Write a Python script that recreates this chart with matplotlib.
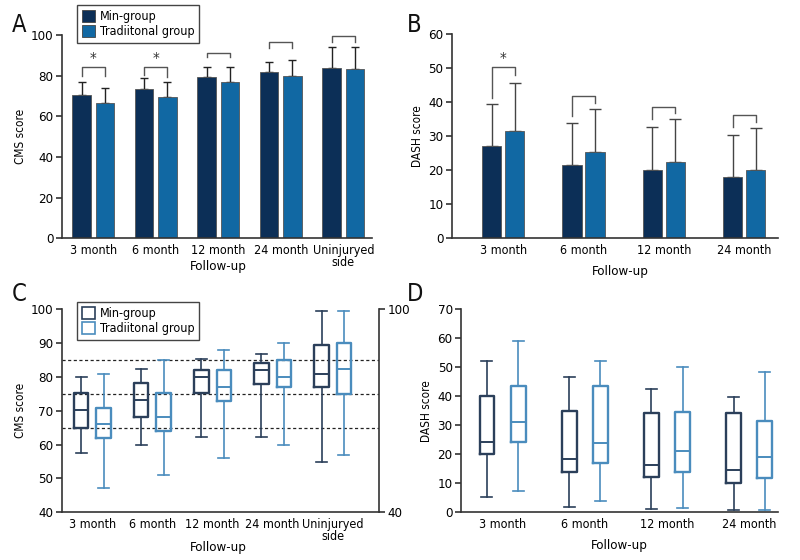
import numpy as np
import matplotlib
matplotlib.use("Agg")
import matplotlib.pyplot as plt
from matplotlib.patches import Patch

plt.rcParams["font.family"] = ["DejaVu Sans"]
plt.rcParams["font.stretch"] = "condensed"

DARK = "#0c2f57"
BLUE = "#1168a3"
BOX_DARK = "#2b3f5a"
BOX_BLUE = "#4a8cbd"
AXC = "#333333"

# ---- data ----
groups_cms = ["3 month", "6 month", "12 month", "24 month", "Uninjuryed\nside"]
groups_dash = ["3 month", "6 month", "12 month", "24 month"]

cms_min_mean = [70.5, 73.5, 79.5, 82.0, 84.0]
cms_min_sd = [6.5, 5.5, 5.0, 4.5, 10.0]
cms_trad_mean = [66.5, 69.5, 77.0, 80.0, 83.5]
cms_trad_sd = [7.5, 7.5, 7.5, 7.5, 10.5]

dash_min_mean = [27.2, 21.6, 20.1, 18.1]
dash_min_sd = [12.3, 12.4, 12.5, 12.2]
dash_trad_mean = [31.7, 25.5, 22.4, 20.1]
dash_trad_sd = [13.9, 12.4, 12.8, 12.3]

# bracket annotations: top, left leg end, right leg end, significance
cms_br_top = [84.4, 84.4, 91.3, 96.4, 99.7]
cms_br_left = [80.0, 80.3, 89.0, 93.8, 96.7]
cms_br_right = [80.0, 79.5, 89.0, 93.8, 96.7]
cms_sig = [True, True, False, False, False]

dash_br_top = [50.5, 42.0, 38.5, 36.4]
dash_br_left = [41.2, 36.0, 35.0, 32.8]
dash_br_right = [48.0, 39.7, 37.0, 34.3]
dash_sig = [True, False, False, False]

# box plot summaries (whisker low, Q1, median, Q3, whisker high)
cms_box_min_lo = [57.6, 59.8, 62.2, 62.4, 55.0]
cms_box_min_q1 = [65.0, 68.2, 75.4, 78.0, 77.0]
cms_box_min_med = [70.1, 73.1, 80.0, 82.1, 81.0]
cms_box_min_q3 = [75.4, 78.3, 82.1, 84.2, 89.5]
cms_box_min_hi = [80.1, 82.3, 85.2, 86.9, 99.6]

cms_box_trad_lo = [47.1, 51.0, 56.0, 59.8, 56.9]
cms_box_trad_q1 = [62.0, 64.1, 73.0, 77.0, 74.9]
cms_box_trad_med = [66.0, 68.1, 76.9, 80.0, 82.3]
cms_box_trad_q3 = [70.9, 75.4, 82.1, 85.0, 90.0]
cms_box_trad_hi = [80.8, 85.0, 88.0, 90.0, 99.6]

cms_ref_lines = [65, 75, 85]

dash_box_min_lo = [5.3, 1.7, 1.0, 0.7]
dash_box_min_q1 = [20.0, 13.8, 12.3, 10.1]
dash_box_min_med = [24.2, 18.3, 16.2, 14.4]
dash_box_min_q3 = [40.2, 35.0, 34.1, 34.1]
dash_box_min_hi = [52.0, 46.7, 42.4, 39.8]

dash_box_trad_lo = [7.2, 4.0, 1.6, 0.9]
dash_box_trad_q1 = [24.3, 17.0, 13.9, 11.7]
dash_box_trad_med = [31.1, 23.8, 21.2, 19.2]
dash_box_trad_q3 = [43.5, 43.5, 34.4, 31.3]
dash_box_trad_hi = [59.1, 52.0, 49.9, 48.2]

LEG_LABELS = ["Min-group", "Tradiitonal group"]


def style_axes(ax):
    for s in ["top", "right"]:
        ax.spines[s].set_visible(False)
    for s in ["left", "bottom"]:
        ax.spines[s].set_color(AXC)
        ax.spines[s].set_linewidth(1.2)
    ax.tick_params(axis="y", direction="out", length=4, width=1.2, color=AXC, labelsize=9.5, pad=2)
    ax.tick_params(axis="x", length=0, labelsize=9, pad=4)
    for t in ax.get_xticklabels():
        t.set_linespacing(0.95)


def follow_up(ax, xf, yf):
    ax.set_xlabel("Follow-up", fontsize=9.5)
    ax.xaxis.label.set_verticalalignment("center")
    ax.xaxis.set_label_coords(xf, yf)


def bar_panel(ax, labels, m1, s1, m2, s2, off, width, capsize, ecolor):
    x = np.arange(len(labels))
    ax.bar(x - off, m1, width, color=DARK, edgecolor="#555555", linewidth=0.6, zorder=2)
    ax.bar(x + off, m2, width, color=BLUE, edgecolor="#555555", linewidth=0.6, zorder=2)
    for xs, m, s in [(x - off, m1, s1), (x + off, m2, s2)]:
        ax.errorbar(xs, m, yerr=[np.zeros(len(m)), s], fmt="none", ecolor=ecolor,
                    elinewidth=1.0, capsize=capsize, capthick=1.0, zorder=1)
    ax.set_xticks(x)
    ax.set_xticklabels(labels)
    return x


def brackets(ax, x, off, top, lft, rgt, sig):
    for i in range(len(x)):
        xl, xr = x[i] - off, x[i] + off
        ax.plot([xl, xl, xr, xr], [lft[i], top[i], top[i], rgt[i]], color="#555555", lw=1.0)
        if sig[i]:
            ax.text(x[i], top[i], "*", ha="center", va="bottom", fontsize=11, color="#333333")


def box_panel(ax, n, off, width, series):
    x = np.arange(n)
    for sign, (lo, q1, med, q3, hi), col in series:
        stats = [dict(whislo=lo[i], q1=q1[i], med=med[i], q3=q3[i], whishi=hi[i], fliers=[])
                 for i in range(n)]
        ax.bxp(stats, positions=x + sign * off, widths=width, showfliers=False,
               boxprops=dict(color=col, linewidth=1.7),
               medianprops=dict(color=col, linewidth=1.4),
               whiskerprops=dict(color=col, linewidth=1.2),
               capprops=dict(color=col, linewidth=1.2),
               capwidths=width * 0.75, manage_ticks=False)
    return x


def add_legend(ax, handles, y_px):
    ax.legend(handles=handles, labels=LEG_LABELS, loc="upper left",
              bbox_to_anchor=(76.7 / 800, 1 - y_px / 560), bbox_transform=fig.transFigure,
              borderaxespad=0, fancybox=False, edgecolor="#444444", fontsize=9,
              handlelength=1.1, handleheight=1.1, handletextpad=0.35, labelspacing=0.15,
              borderpad=0.4, framealpha=1)


fig = plt.figure(figsize=(8, 5.6), dpi=100)

# ---- A ----
axA = fig.add_axes([62 / 800, 1 - 238.3 / 560, 310 / 800, 203.3 / 560])
xA = bar_panel(axA, groups_cms, cms_min_mean, cms_min_sd, cms_trad_mean, cms_trad_sd,
               0.1875, 0.3, 3.2, "#222222")
brackets(axA, xA, 0.1875, cms_br_top, cms_br_left, cms_br_right, cms_sig)
axA.set_xlim(-0.5, 4.46)
axA.set_ylim(0, 100)
axA.set_yticks(range(0, 101, 20))
axA.set_ylabel("CMS score", fontsize=8.5, labelpad=3)
style_axes(axA)
follow_up(axA, 0.503, -0.141)
add_legend(axA, [Patch(facecolor=DARK, edgecolor="#444444", lw=0.6),
                 Patch(facecolor=BLUE, edgecolor="#444444", lw=0.6)], 5)

# ---- B ----
axB = fig.add_axes([451.7 / 800, 1 - 238.3 / 560, 326.3 / 800, 204 / 560])
xB = bar_panel(axB, groups_dash, dash_min_mean, dash_min_sd, dash_trad_mean, dash_trad_sd,
               0.143, 0.24, 4.0, "#444444")
brackets(axB, xB, 0.143, dash_br_top, dash_br_left, dash_br_right, dash_sig)
axB.set_xlim(-0.64, 3.42)
axB.set_ylim(0, 60)
axB.set_yticks(range(0, 61, 10))
axB.set_ylabel("DASH score", fontsize=8.5, labelpad=3)
style_axes(axB)
follow_up(axB, 0.516, -0.164)

# ---- C ----
axC = fig.add_axes([61.7 / 800, 1 - 512.3 / 560, 317.3 / 800, 203 / 560])
for yv in cms_ref_lines:
    axC.axhline(yv, color="#222222", lw=0.9, ls=(0, (2.5, 2)), zorder=0)
xC = box_panel(axC, len(groups_cms), 0.186, 0.24, [
    (-1, (cms_box_min_lo, cms_box_min_q1, cms_box_min_med, cms_box_min_q3, cms_box_min_hi), BOX_DARK),
    (1, (cms_box_trad_lo, cms_box_trad_q1, cms_box_trad_med, cms_box_trad_q3, cms_box_trad_hi), BOX_BLUE),
])
axC.set_xticks(xC)
axC.set_xticklabels(groups_cms)
axC.set_xlim(-0.51, 4.77)
axC.set_ylim(40, 100)
axC.set_yticks(range(40, 101, 10))
axC.set_ylabel("CMS score", fontsize=8.5, labelpad=3)
style_axes(axC)
follow_up(axC, 0.493, -0.171)
axR = axC.twinx()
axR.set_ylim(40, 100)
axR.set_yticks([40, 100])
for s in ["top", "left", "bottom"]:
    axR.spines[s].set_visible(False)
axR.spines["right"].set_color(AXC)
axR.spines["right"].set_linewidth(1.2)
axR.tick_params(axis="y", direction="out", length=4, width=1.2, color=AXC, labelsize=9.5, pad=2)
add_legend(axR, [Patch(facecolor="white", edgecolor=BOX_DARK, lw=1.2),
                 Patch(facecolor="white", edgecolor=BOX_BLUE, lw=1.2)], 301.7)

# ---- D ----
axD = fig.add_axes([461 / 800, 1 - 512.3 / 560, 317 / 800, 203.3 / 560])
xD = box_panel(axD, len(groups_dash), 0.19, 0.18, [
    (-1, (dash_box_min_lo, dash_box_min_q1, dash_box_min_med, dash_box_min_q3, dash_box_min_hi), BOX_DARK),
    (1, (dash_box_trad_lo, dash_box_trad_q1, dash_box_trad_med, dash_box_trad_q3, dash_box_trad_hi), BOX_BLUE),
])
axD.set_xticks(xD)
axD.set_xticklabels(groups_dash)
axD.set_xlim(-0.505, 3.35)
axD.set_ylim(0, 70)
axD.set_yticks(range(0, 71, 10))
axD.set_ylabel("DASH score", fontsize=8.5, labelpad=3)
style_axes(axD)
follow_up(axD, 0.50, -0.161)

# panel letters
for lab, (px, py) in {"A": (12, 32), "B": (407, 32), "C": (12, 301), "D": (407, 301)}.items():
    fig.text(px / 800, 1 - py / 560, lab, fontsize=17, ha="left", va="baseline", color="#111111")

fig.savefig("out.png", dpi=100)
